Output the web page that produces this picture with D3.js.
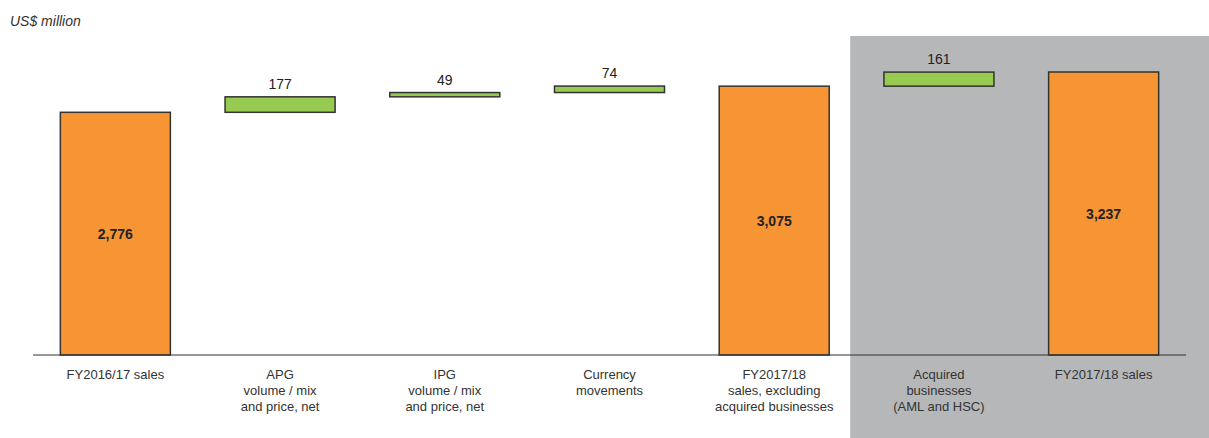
<!DOCTYPE html>
<html>
<head>
  <meta charset="utf-8"/>
  <title>Sales bridge</title>
  <style>
    body { margin: 0; background: #fff; }
    text { font-family: "Liberation Sans", Arial, sans-serif; }
  </style>
  <script src="https://d3js.org/d3.v7.min.js"></script>
</head>
<body>
<div id="chart"></div>
<script>
// categories (label lines) and values
var categories = [
  ["FY2016/17 sales"],
  ["APG", "volume / mix", "and price, net"],
  ["IPG", "volume / mix", "and price, net"],
  ["Currency", "movements"],
  ["FY2017/18", "sales, excluding", "acquired businesses"],
  ["Acquired", "businesses", "(AML and HSC)"],
  ["FY2017/18 sales"]
]
var values = [2776, 177, 49, 74, 3075, 161, 3237]
var kinds = ["total", "delta", "delta", "delta", "total", "delta", "total"]
var valueLabels = ["2,776", "177", "49", "74", "3,075", "161", "3,237"]

var width = 1209, height = 438
var baseY = 355

var svg = d3.select("#chart").append("svg")
  .attr("width", width)
  .attr("height", height)

// build bar extents from the running total
var running = 0
var bars = values.map(function(v, i) {
  var b
  if (kinds[i] == "total") {
    b = {lo: 0, hi: v}
    running = v
  } else {
    b = {lo: running, hi: running + v}
    running += v
  }
  b.i = i; b.kind = kinds[i]; b.label = valueLabels[i]; b.cat = categories[i]
  return b
})

var x = d3.scaleBand()
  .domain(d3.range(values.length))
  .range([33, 1186])
  .paddingInner(0.332)
  .paddingOuter(0.166)

var y = d3.scaleLinear()
  .domain([0, 3237])
  .range([baseY, 72])

// grey shaded area behind the acquisition part
var shadeX = x(4) + x.bandwidth() + 21
svg.append("rect")
  .attr("x", shadeX)
  .attr("y", 36)
  .attr("width", width - shadeX)
  .attr("height", height - 36)
  .attr("fill", "#b6b7b9")

svg.append("text")
  .attr("x", 10)
  .attr("y", 26)
  .attr("font-size", 14)
  .attr("font-style", "italic")
  .attr("fill", "#333")
  .text("US$ million")

svg.selectAll(".bar")
  .data(bars)
  .enter()
  .append("rect")
  .attr("class", "bar")
  .attr("x", function(d) { return x(d.i) })
  .attr("y", function(d) { return y(d.hi) })
  .attr("width", x.bandwidth())
  .attr("height", function(d) { return y(d.lo) - y(d.hi) })
  .attr("fill", function(d) { return d.kind == "total" ? "#f79433" : "#97ca50" })
  .attr("stroke", "#333")
  .attr("stroke-width", 1.5)

// baseline
svg.append("line")
  .attr("x1", 33).attr("x2", 1186)
  .attr("y1", baseY).attr("y2", baseY)
  .attr("stroke", "#333")
  .attr("stroke-width", 1.2)

// value labels
svg.selectAll(".val")
  .data(bars)
  .enter()
  .append("text")
  .attr("class", "val")
  .attr("x", function(d) { return x(d.i) + x.bandwidth() / 2 })
  .attr("y", function(d) {
    return d.kind == "total" ? y(d.hi / 2) + 5 : y(d.hi) - 8
  })
  .attr("text-anchor", "middle")
  .attr("font-size", 14)
  .attr("font-weight", function(d) { return d.kind == "total" ? "bold" : "normal" })
  .attr("fill", "#222")
  .text(function(d) { return d.label })

// category labels
var cat = svg.selectAll(".cat")
  .data(bars)
  .enter()
  .append("text")
  .attr("class", "cat")
  .attr("x", function(d) { return x(d.i) + x.bandwidth() / 2 })
  .attr("y", 379)
  .attr("text-anchor", "middle")
  .attr("font-size", 13)
  .attr("fill", "#333")

cat.selectAll("tspan")
  .data(function(d) { return d.cat.map(function(t) { return {t: t, x: x(d.i) + x.bandwidth() / 2} }) })
  .enter()
  .append("tspan")
  .attr("x", function(d) { return d.x })
  .attr("dy", function(d, j) { return j == 0 ? 0 : 16 })
  .text(function(d) { return d.t })
</script>
</body>
</html>
